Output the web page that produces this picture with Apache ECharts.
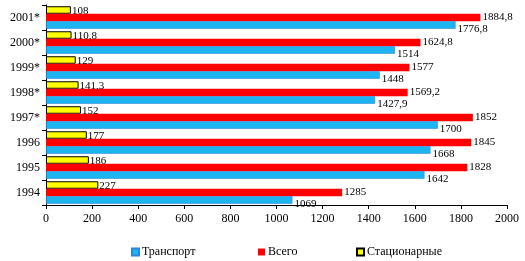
<!DOCTYPE html>
<html>
<head>
<meta charset="utf-8">
<script src="https://cdn.jsdelivr.net/npm/echarts@6/dist/echarts.min.js"></script>
<style>
  html, body { margin: 0; padding: 0; background: #fff; }
  #chart { width: 525px; height: 261px; }
</style>
</head>
<body>
<div id="chart"></div>
<script>
// years, bottom to top
var years = ['1994', '1995', '1996', '1997*', '1998*', '1999*', '2000*', '2001*'];
var transport = [1069, 1642, 1668, 1700, 1427.9, 1448, 1514, 1776.8];
var total = [1285, 1828, 1845, 1852, 1569.2, 1577, 1624.8, 1884.8];
var stationary = [227, 186, 177, 152, 141.3, 129, 110.8, 108];
var xTicks = [0, 200, 400, 600, 800, 1000, 1200, 1400, 1600, 1800, 2000];

var chart = echarts.init(document.getElementById('chart'));

function fmt(p) {
  return String(p.value).replace('.', ',');
}

var labelBase = {
  show: true,
  position: 'right',
  color: '#000',
  fontFamily: 'Liberation Serif',
  fontSize: 11,
  distance: 2,
  formatter: fmt
};

function legendAt(name, left) {
  return {
    top: 241,
    left: left,
    itemWidth: 7,
    itemHeight: 7,
    itemGap: 0,
    icon: 'rect',
    textStyle: { fontFamily: 'Liberation Serif', fontSize: 12, color: '#000', padding: [0, 0, 0, -2] },
    data: [name]
  };
}

// series listed top-to-bottom within each band (ECharts puts the first one on top)
var option = {
  animation: false,
  textStyle: { fontFamily: 'Liberation Serif' },
  grid: { left: 46, right: 18, top: 5, bottom: 56 },
  legend: [
    legendAt('Транспорт', 126),
    legendAt('Всего', 253),
    legendAt('Стационарные', 351)
  ],
  xAxis: {
    type: 'value',
    min: 0,
    max: 2000,
    interval: 200,
    splitLine: { show: false },
    axisLine: { show: true, lineStyle: { color: '#000' } },
    axisTick: { show: true, length: 4, lineStyle: { color: '#000' } },
    axisLabel: {
      color: '#000', fontSize: 12, margin: 8,
      formatter: function (v) { return xTicks.indexOf(v) >= 0 ? String(v) : ''; }
    }
  },
  yAxis: {
    type: 'category',
    data: years,
    axisLine: { show: true, lineStyle: { color: '#000' } },
    axisTick: { show: true, length: 4, lineStyle: { color: '#000' } },
    axisLabel: { color: '#000', fontSize: 12, margin: 6 }
  },
  series: [
    {
      name: 'Стационарные',
      type: 'bar',
      data: stationary,
      barGap: '0%',
      barCategoryGap: '10%',
      itemStyle: { color: '#FFFF00', borderColor: '#000', borderWidth: 1 },
      label: Object.assign({}, labelBase, { distance: 1, offset: [0, 1] })
    },
    {
      name: 'Всего',
      type: 'bar',
      data: total,
      itemStyle: { color: '#FF0000' },
      label: Object.assign({}, labelBase, { offset: [0, 0] })
    },
    {
      name: 'Транспорт',
      type: 'bar',
      data: transport,
      itemStyle: { color: '#1CB5F2', borderColor: '#2F86D6', borderWidth: 0.6 },
      label: Object.assign({}, labelBase, { offset: [0, 4] })
    }
  ]
};

chart.setOption(option);
</script>
</body>
</html>
